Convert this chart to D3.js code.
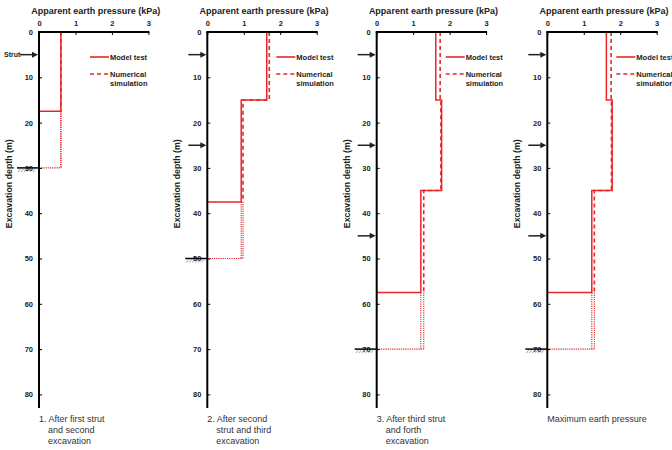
<!DOCTYPE html>
<html><head><meta charset="utf-8">
<script src="https://cdn.jsdelivr.net/npm/d3@7"></script>
<style>body{margin:0;background:#fff;} svg{display:block;font-family:"Liberation Sans",Arial,sans-serif;}</style>
</head><body>
<svg id="c" width="672" height="450"></svg>
<script>
// ---- data ----
const xTicks = [0, 1, 2, 3];
const yTicks = [0, 10, 20, 30, 40, 50, 60, 70, 80];
const captions = [
  ["1. After first strut", "and second", "excavation"],
  ["2. After second", "strut and third", "excavation"],
  ["3. After third strut", "and forth", "excavation"],
  ["Maximum earth pressure"]
];
const strutDepths = [[5], [5, 25], [5, 25, 45], [5, 25, 45]];
const excavationDepths = [30, 50, 70, 70];
const stepBreaks = [[0, 17.5], [0, 15, 37.5], [0, 15, 35, 57.5], [0, 15, 35, 57.5]];
const modelTest = [[0.6], [1.63, 0.93], [1.62, 1.78, 1.21], [1.62, 1.78, 1.22]];
const numericalSim = [[0.6], [1.7, 0.98], [1.74, 1.76, 1.29], [1.75, 1.76, 1.29]];

// ---- layout ----
const panelX = [39, 207.3, 376.7, 547.3];
const legendOff = [51, 69, 69, 69];
const pw = 109.4, topY = 32, red = "#e8262a";
const svg = d3.select("#c");

panelX.forEach((px, i) => {
  const x = d3.scaleLinear().domain([0, 3]).range([px, px + pw]);
  const y = d3.scaleLinear().domain([0, 80]).range([topY, topY + 362.4]);
  const g = svg.append("g");

  const ey = y(excavationDepths[i]);
  const br = stepBreaks[i];
  function stepPath(vals) {
    const p = d3.path();
    p.moveTo(x(vals[0]), y(br[0]));
    vals.forEach((v, k) => {
      p.lineTo(x(v), y(br[k + 1]));
      if (k < vals.length - 1) p.lineTo(x(vals[k + 1]), y(br[k + 1]));
    });
    return p.toString();
  }
  const last = br[br.length - 1];
  const mLast = modelTest[i][modelTest[i].length - 1];
  const nLast = numericalSim[i][numericalSim[i].length - 1];
  // dotted extensions
  [nLast, mLast].forEach(v => {
    g.append("path").attr("d", `M${x(v)},${y(last)}L${x(v)},${ey}`)
      .attr("stroke", red).attr("stroke-width", 1.1).attr("stroke-dasharray", "1.2,1").attr("fill", "none");
  });
  g.append("path").attr("d", `M${x(0)},${ey}L${x(Math.max(mLast, nLast))},${ey}`)
    .attr("stroke", red).attr("stroke-width", 1.1).attr("stroke-dasharray", "1.2,1").attr("fill", "none");
  // numerical (dashed)
  g.append("path").attr("d", stepPath(numericalSim[i])).attr("fill", "none")
    .attr("stroke", red).attr("stroke-width", 1.6).attr("stroke-dasharray", "4,3");
  // model test (solid)
  g.append("path").attr("d", stepPath(modelTest[i]) + `L${x(0)},${y(last)}`).attr("fill", "none")
    .attr("stroke", red).attr("stroke-width", 1.5);

  // axes
  const xa = d3.axisTop(x).tickValues(xTicks).tickSize(-3).tickPadding(6).tickFormat(d3.format("d"));
  const xg = g.append("g").attr("transform", `translate(0,${topY})`).call(xa);
  const ya = d3.axisLeft(y).tickValues(yTicks).tickSize(-3).tickPadding(6).tickFormat(d3.format("d"));
  const yg = g.append("g").attr("transform", `translate(${px},0)`).call(ya);
  [xg, yg].forEach(a => {
    a.select(".domain").remove();
    a.selectAll("text").attr("font-size", 7.5).attr("font-weight", "bold").attr("fill", "#222");
    a.selectAll("line").attr("stroke", "#000").attr("stroke-width", 1);
  });
  g.append("line").attr("x1", px).attr("x2", px).attr("y1", topY).attr("y2", y(83))
    .attr("stroke", "#000").attr("stroke-width", 2);
  g.append("line").attr("x1", px - 1).attr("x2", px + pw + 1).attr("y1", topY).attr("y2", topY)
    .attr("stroke", "#000").attr("stroke-width", 2);

  // excavation base marker
  g.append("line").attr("x1", px - 22).attr("x2", px).attr("y1", ey).attr("y2", ey)
    .attr("stroke", "#000").attr("stroke-width", 1.5);
  for (let k = 0; k < 6; k++) {
    const hx = px - 21 + k * 3;
    g.append("line").attr("x1", hx).attr("x2", hx + 2.5).attr("y1", ey + 4).attr("y2", ey + 1)
      .attr("stroke", "#777").attr("stroke-width", 0.7);
  }

  // struts
  strutDepths[i].forEach(d => {
    const sy = y(d);
    g.append("line").attr("x1", px - 19).attr("x2", px - 6).attr("y1", sy).attr("y2", sy)
      .attr("stroke", "#222").attr("stroke-width", 1.5);
    g.append("path").attr("d", `M${px - 1},${sy}L${px - 7},${sy - 3}L${px - 7},${sy + 3}Z`).attr("fill", "#222");
  });
  if (i === 0) {
    g.append("text").attr("x", 4).attr("y", y(5) + 2.5).attr("font-size", 7).attr("font-weight", "bold")
      .attr("fill", "#222").text("Strut");
  }

  // titles
  g.append("text").attr("x", px + pw / 2 + 2).attr("y", 14).attr("text-anchor", "middle")
    .attr("font-size", 9).attr("font-weight", "bold").attr("fill", "#222").text("Apparent earth pressure (kPa)");
  g.append("text").attr("transform", `translate(${px - 27},${y(33.5)}) rotate(-90)`).attr("text-anchor", "middle")
    .attr("font-size", 8.8).attr("font-weight", "bold").attr("fill", "#222").text("Excavation depth (m)");

  // legend
  const lx = px + legendOff[i];
  g.append("line").attr("x1", lx).attr("x2", lx + 19).attr("y1", 57).attr("y2", 57)
    .attr("stroke", red).attr("stroke-width", 1.6);
  g.append("line").attr("x1", lx).attr("x2", lx + 19).attr("y1", 74).attr("y2", 74)
    .attr("stroke", red).attr("stroke-width", 1.6).attr("stroke-dasharray", "4,3");
  const lt = g.append("g").attr("font-size", 7.5).attr("font-weight", "bold").attr("fill", "#222");
  lt.append("text").attr("x", lx + 20).attr("y", 60).text("Model test");
  lt.append("text").attr("x", lx + 20).attr("y", 76.5).text("Numerical");
  lt.append("text").attr("x", lx + 20).attr("y", 85.5).text("simulation");

  // caption
  captions[i].forEach((t, k) => {
    g.append("text").attr("x", k === 0 ? px : px + 9).attr("y", 422 + k * 11)
      .attr("font-size", 9).attr("fill", "#333").text(t);
  });
});
</script>
</body></html>
